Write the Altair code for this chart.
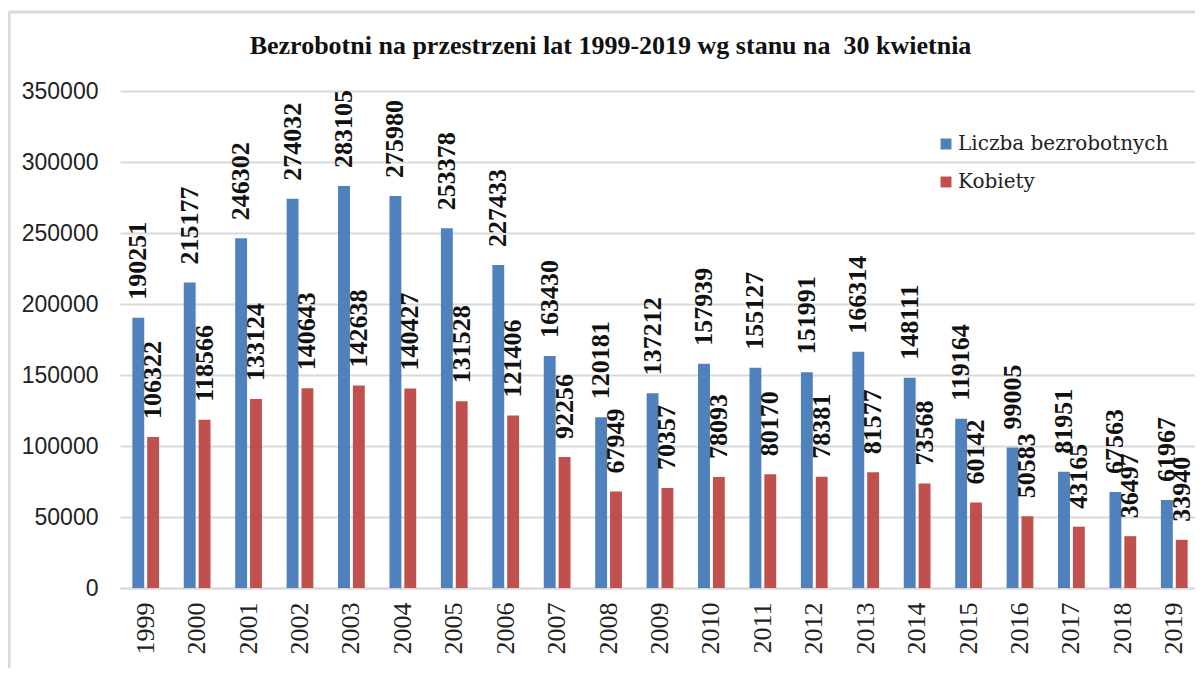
import altair as alt
import pandas as pd

years = ["1999", "2000", "2001", "2002", "2003", "2004", "2005", "2006", "2007", "2008",
         "2009", "2010", "2011", "2012", "2013", "2014", "2015", "2016", "2017", "2018", "2019"]
liczba = [190251, 215177, 246302, 274032, 283105, 275980, 253378, 227433, 163430, 120181,
          137212, 157939, 155127, 151991, 166314, 148111, 119164, 99005, 81951, 67563, 61967]
kobiety = [106322, 118566, 133124, 140643, 142638, 140427, 131528, 121406, 92256, 67949,
           70357, 78093, 80170, 78381, 81577, 73568, 60142, 50583, 43165, 36497, 33940]
series_names = ["Liczba bezrobotnych", "Kobiety"]
series_colors = ["#4F81BD", "#C0504D"]
y_ticks = [0, 50000, 100000, 150000, 200000, 250000, 300000, 350000]
title_text = "Bezrobotni na przestrzeni lat 1999-2019 wg stanu na \u00a030 kwietnia"

rows = []
for i, yr in enumerate(years):
    rows.append({"rok": yr, "seria": series_names[0], "wartosc": liczba[i]})
    rows.append({"rok": yr, "seria": series_names[1], "wartosc": kobiety[i]})
df = pd.DataFrame(rows)

W, H = 1075, 497
GRID = "#D9D9D9"

x_enc = alt.X(
    "rok:N", sort=years,
    scale=alt.Scale(range=[0, 1080], paddingInner=0.48, paddingOuter=0.24),
    axis=alt.Axis(title=None, labelAngle=270, labelAlign="right", labelBaseline="middle",
                  labelFont="Liberation Serif", labelFontSize=26, labelColor="#222",
                  labelPadding=14, ticks=False, domainColor=GRID, domainWidth=2),
)
xoff = alt.XOffset("seria:N", sort=series_names,
                   scale=alt.Scale(paddingInner=0.2, paddingOuter=0))
y_enc = alt.Y(
    "wartosc:Q",
    scale=alt.Scale(domain=[0, 350000], nice=False),
    axis=alt.Axis(title=None, values=y_ticks, format="d", labelFont="Liberation Sans",
                  labelFontSize=23, labelColor="#222", labelPadding=22, ticks=False,
                  domain=False, gridColor=GRID, gridWidth=2),
)
color_enc = alt.Color(
    "seria:N", sort=series_names,
    scale=alt.Scale(domain=series_names, range=series_colors),
    legend=alt.Legend(title=None, orient="none", legendX=816, legendY=43,
                      symbolType="square", symbolSize=120, symbolStrokeWidth=0,
                      labelFont="DejaVu Serif", labelFontSize=20, labelColor="#222",
                      rowPadding=18, labelOffset=2, labelLimit=400),
)

base = alt.Chart(df).encode(x=x_enc, xOffset=xoff, y=y_enc)

bars = base.mark_bar().encode(color=color_enc)

labels = base.mark_text(
    angle=270, align="left", baseline="middle", dx=18,
    font="Liberation Serif", fontWeight="bold", fontSize=26, color="#111",
).encode(text=alt.Text("wartosc:Q", format="d"))

frame_df = pd.DataFrame({"k": [0]})
frame_left = alt.Chart(frame_df).mark_rule(color=GRID, strokeWidth=3).encode(
    x=alt.value(-111), y=alt.value(-79), y2=alt.value(590))
frame_top = alt.Chart(frame_df).mark_rule(color=GRID, strokeWidth=3).encode(
    x=alt.value(-111), x2=alt.value(1080), y=alt.value(-79))

chart = alt.layer(frame_left, frame_top, bars, labels).properties(
    width=W, height=H,
    autosize=alt.AutoSizeParams(type="none"),
    padding={"left": 112, "top": 83, "right": 0, "bottom": 80},
    title=alt.Title(title_text, font="Liberation Serif", fontSize=26, fontWeight="bold",
                    color="#111", anchor="middle", frame="group", dx=-47,
                    baseline="bottom", offset=0, dy=74),
    background="white",
).configure_view(strokeWidth=0)

chart.save("out.html", embed_options={"renderer": "svg", "actions": False})
